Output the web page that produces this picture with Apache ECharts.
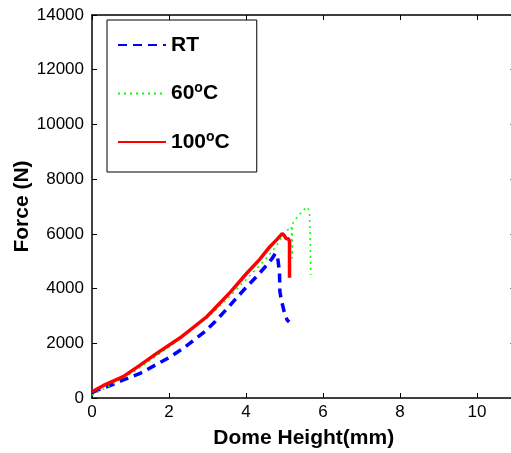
<!DOCTYPE html>
<html>
<head>
<meta charset="utf-8">
<script src="https://cdn.jsdelivr.net/npm/echarts@6/dist/echarts.min.js"></script>
<style>
html,body{margin:0;padding:0;background:#fff;}
#chart{width:511px;height:453px;}
</style>
</head>
<body>
<div id="chart"></div>
<script>
// ---- data ----
var seriesNames = ['RT', '60C', '100C'];

var rtX = [0, 0.2, 0.5, 0.81, 1.25, 1.68, 2.03, 2.37, 2.63, 2.94, 3.2, 3.5, 3.75, 4.02, 4.3, 4.54, 4.68, 4.76, 4.82, 4.87, 4.88, 4.92, 4.95, 5.0, 5.07, 5.12];
var rtY = [200, 320, 470, 660, 900, 1230, 1500, 1815, 2100, 2440, 2800, 3250, 3650, 4070, 4480, 4860, 5100, 5280, 5150, 4600, 3900, 3550, 3400, 3100, 2850, 2780];

var c60X = [0, 0.5, 1.0, 1.5, 2.0, 2.5, 3.0, 3.5, 4.0, 4.5, 4.8, 5.0, 5.18, 5.2, 5.2, 5.23, 5.35, 5.5, 5.6, 5.65, 5.67, 5.68];
var c60Y = [100, 480, 880, 1360, 1860, 2400, 2940, 3600, 4330, 5060, 5580, 6050, 6260, 5100, 6300, 6420, 6650, 6880, 6980, 6800, 5600, 4500];

var c100X = [0, 0.3, 0.81, 1.25, 1.68, 2.29, 2.98, 3.15, 3.6, 4.02, 4.35, 4.62, 4.8, 4.94, 5.0, 5.04, 5.1, 5.13, 5.13];
var c100Y = [230, 460, 780, 1200, 1630, 2200, 2970, 3215, 3880, 4560, 5060, 5530, 5790, 6010, 5930, 5830, 5820, 5720, 4400];

var xTicks = [0, 2, 4, 6, 8, 10];
var yTicks = [0, 2000, 4000, 6000, 8000, 10000, 12000, 14000];

function pairs(xs, ys) { return xs.map(function (x, i) { return [x, ys[i]]; }); }

var chart = echarts.init(document.getElementById('chart'));
var FONT = '"Liberation Sans", Arial, Helvetica, sans-serif';

var axisCommon = {
  axisLine: { show: true, onZero: false, lineStyle: { color: '#000', width: 1.5 } },
  axisTick: { show: true, inside: true, length: 5, lineStyle: { color: '#000', width: 1 } },
  splitLine: { show: false }
};

var legendNames = { 'RT': 'RT', '60C': '60{sup|o}C', '100C': '100{sup|o}C' };

chart.setOption({
  animation: false,
  backgroundColor: '#fff',
  textStyle: { fontFamily: FONT },
  grid: { left: 92, top: 15, width: 423.5, height: 383, containLabel: false, outerBoundsMode: 'none' },
  legend: {
    orient: 'vertical',
    left: 107,
    top: 20,
    padding: [13, 27, 18, 10],
    itemGap: 24.5,
    itemWidth: 48,
    itemHeight: 14,
    borderColor: '#000',
    borderWidth: 1,
    backgroundColor: '#fff',
    itemStyle: { opacity: 0 },
    data: seriesNames,
    formatter: function (n) { return legendNames[n]; },
    textStyle: {
      fontFamily: FONT, fontSize: 21, fontWeight: 'bold', color: '#000', lineHeight: 24,
      rich: { sup: { fontFamily: FONT, fontSize: 14, fontWeight: 'bold', color: '#000', verticalAlign: 'top', lineHeight: 12, padding: [0, 0, 10, 0] } }
    }
  },
  xAxis: [
    Object.assign({
      type: 'value', position: 'bottom', min: 0, max: 11, interval: 2,
      name: 'Dome Height(mm)', nameLocation: 'middle', nameGap: 30,
      nameTextStyle: { fontFamily: FONT, fontSize: 21, fontWeight: 'bold', color: '#000' },
      axisLabel: {
        fontFamily: FONT, fontSize: 17, color: '#000', margin: 6, showMaxLabel: false,
        formatter: function (v) { return xTicks.indexOf(v) >= 0 ? String(v) : ''; }
      }
    }, axisCommon),
    Object.assign({
      type: 'value', position: 'top', min: 0, max: 11, interval: 2,
      axisLabel: { show: false }
    }, axisCommon)
  ],
  yAxis: [
    Object.assign({
      type: 'value', position: 'left', min: 0, max: 14000, interval: 2000,
      name: 'Force (N)', nameLocation: 'middle', nameGap: 59, nameRotate: 90, nameMoveOverlap: false,
      nameTextStyle: { fontFamily: FONT, fontSize: 21, fontWeight: 'bold', color: '#000' },
      axisLabel: {
        fontFamily: FONT, fontSize: 17, color: '#000', margin: 8,
        formatter: function (v) { return yTicks.indexOf(v) >= 0 ? String(v) : ''; }
      }
    }, axisCommon),
    Object.assign({
      type: 'value', position: 'right', min: 0, max: 14000, interval: 2000,
      axisLabel: { show: false }
    }, axisCommon)
  ],
  series: [
    {
      name: 'RT', type: 'line', xAxisIndex: 0, yAxisIndex: 0, symbol: 'none',
      data: pairs(rtX, rtY),
      lineStyle: { color: '#0000ff', width: 3.5, type: [9, 6] },
      itemStyle: { color: '#0000ff' }
    },
    {
      name: '60C', type: 'line', xAxisIndex: 0, yAxisIndex: 0, symbol: 'none',
      data: pairs(c60X, c60Y),
      lineStyle: { color: '#00ff00', width: 1.5, type: [2, 4] },
      itemStyle: { color: '#00ff00' }
    },
    {
      name: '100C', type: 'line', xAxisIndex: 0, yAxisIndex: 0, symbol: 'none',
      data: pairs(c100X, c100Y),
      lineStyle: { color: '#ff0000', width: 3.5 },
      itemStyle: { color: '#ff0000' }
    }
  ]
});
</script>
</body>
</html>
